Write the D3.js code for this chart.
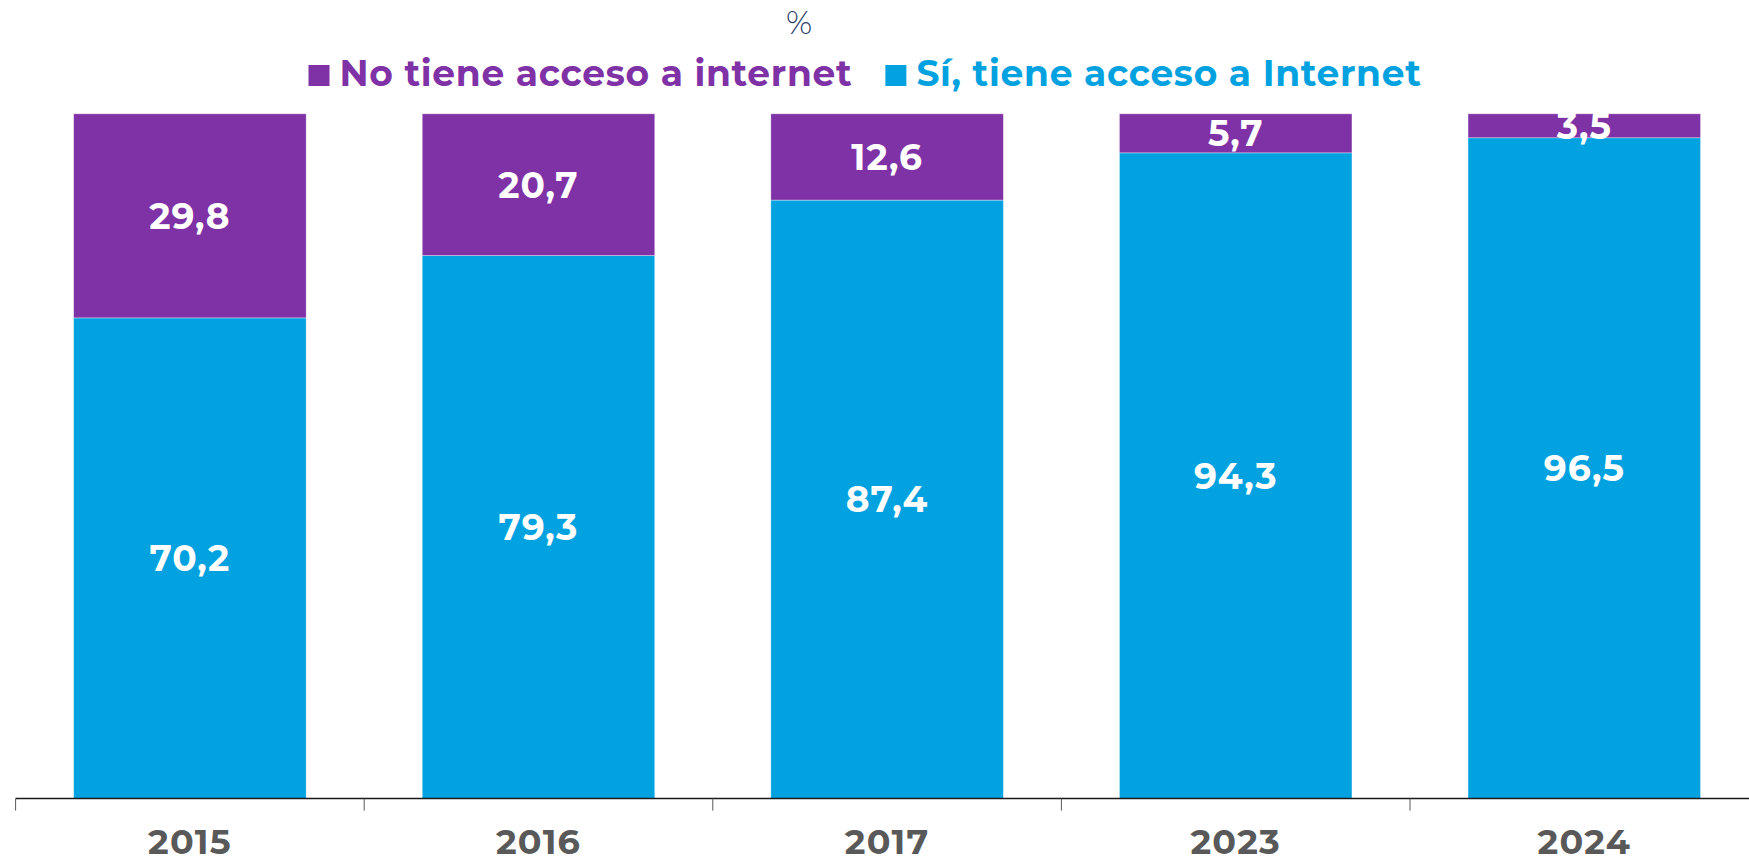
<!DOCTYPE html>
<html>
<head>
<meta charset="utf-8">
<script src="https://cdn.jsdelivr.net/npm/d3@7"></script>
<style>
  body { margin: 0; background: #fff; }
  text { font-family: "Montserrat", "Open Sans", sans-serif; }
</style>
</head>
<body>
<div id="chart"></div>
<script>
// data
var years = ["2015", "2016", "2017", "2023", "2024"];
var noAccess = [29.8, 20.7, 12.6, 5.7, 3.5];
var withAccess = [70.2, 79.3, 87.4, 94.3, 96.5];
var seriesNames = ["No tiene acceso a internet", "Sí, tiene acceso a Internet"];
var unitLabel = "%";

var width = 1749;
var height = 864;
var purple = "#7F31A6";
var blue = "#02A2E0";

var svg = d3.select('#chart')
          .append('svg')
          .attr('width', width)
          .attr('height', height);

var x = d3.scaleBand()
          .domain(years)
          .range([15.6, 1758.6])
          .paddingInner(0.333)
          .paddingOuter(0.1665);

var y = d3.scaleLinear().domain([0, 100]).range([798.6, 113.8]);

var rows = years.map(function(yr, i) {
  return {year: yr, withAccess: withAccess[i], noAccess: noAccess[i]};
});

var stack = d3.stack().keys(["withAccess", "noAccess"]);
var layers = stack(rows);
var colors = {withAccess: blue, noAccess: purple};

// bars
var layer = svg.selectAll(".layer")
               .data(layers)
               .enter()
               .append("g")
               .attr("class", "layer")
               .attr("fill", function(d) { return colors[d.key]; });

layer.selectAll("rect")
     .data(function(d) { return d; })
     .enter()
     .append("rect")
     .attr("x", function(d) { return x(d.data.year); })
     .attr("width", x.bandwidth())
     .attr("y", function(d) { return y(d[1]); })
     .attr("height", function(d) { return y(d[0]) - y(d[1]); })
     .attr("stroke", "#ffffff")
     .attr("stroke-opacity", 0.45)
     .attr("stroke-width", 0.8);

// value labels
layer.selectAll(".val")
     .data(function(d) { return d.map(function(s) { return {s: s, key: d.key}; }); })
     .enter()
     .append("text")
     .attr("class", "val")
     .attr("x", function(d) { return x(d.s.data.year) + x.bandwidth() / 2; })
     .attr("y", function(d) { return (y(d.s[0]) + y(d.s[1])) / 2; })
     .attr("dy", "0.36em")
     .attr("text-anchor", "middle")
     .attr("fill", "#fff")
     .attr("font-size", "36px")
     .attr("font-weight", "bold")
     .attr("letter-spacing", "1px")
     .text(function(d) { return d3.format(".1f")(d.s.data[d.key]).replace(".", ","); });

// axis
var axisY = y(0);
var gap = x.step() * x.paddingInner() / 2;
svg.append("line")
   .attr("x1", x.range()[0]).attr("x2", width)
   .attr("y1", axisY).attr("y2", axisY)
   .attr("stroke", "#1a1a1a")
   .attr("stroke-width", 1.5);

var bounds = years.map(function(d) { return x(d) - gap; });
svg.selectAll(".tick")
   .data(bounds)
   .enter()
   .append("line")
   .attr("class", "tick")
   .attr("x1", function(d) { return d; }).attr("x2", function(d) { return d; })
   .attr("y1", axisY).attr("y2", axisY + 12)
   .attr("stroke", "#595959")
   .attr("stroke-width", 1);

svg.selectAll(".year")
   .data(years)
   .enter()
   .append("text")
   .attr("class", "year")
   .attr("x", function(d) { return x(d) + x.bandwidth() / 2; })
   .attr("y", 854)
   .attr("text-anchor", "middle")
   .attr("fill", "#595959")
   .attr("font-size", "35px")
   .attr("font-weight", "bold")
   .attr("letter-spacing", "1.2px")
   .text(function(d) { return d; });

// unit
svg.append("text")
   .attr("x", 799)
   .attr("y", 34)
   .attr("text-anchor", "middle")
   .attr("fill", "#1F3864")
   .attr("font-size", "32px")
   .attr("font-weight", 300)
   .text(unitLabel);

// legend
var legendColors = [purple, blue];
var legend = svg.append("g");
var items = legend.selectAll(".item")
                  .data(seriesNames)
                  .enter()
                  .append("g")
                  .attr("class", "item");
items.append("rect")
     .attr("width", 21).attr("height", 21)
     .attr("y", 65)
     .attr("fill", function(d, i) { return legendColors[i]; });
items.append("text")
     .attr("x", 31)
     .attr("y", 86)
     .attr("fill", function(d, i) { return legendColors[i]; })
     .attr("font-size", "36px")
     .attr("font-weight", "bold")
     .attr("letter-spacing", "0.7px")
     .text(function(d) { return d; });

var widths = [];
items.each(function() { widths.push(this.getBBox().width); });
var totalW = d3.sum(widths) + 33;
var startX = 865 - totalW / 2;
items.attr("transform", function(d, i) {
  var off = startX + (i === 0 ? 0 : widths[0] + 33);
  return "translate(" + off + ",0)";
});
</script>
</body>
</html>
